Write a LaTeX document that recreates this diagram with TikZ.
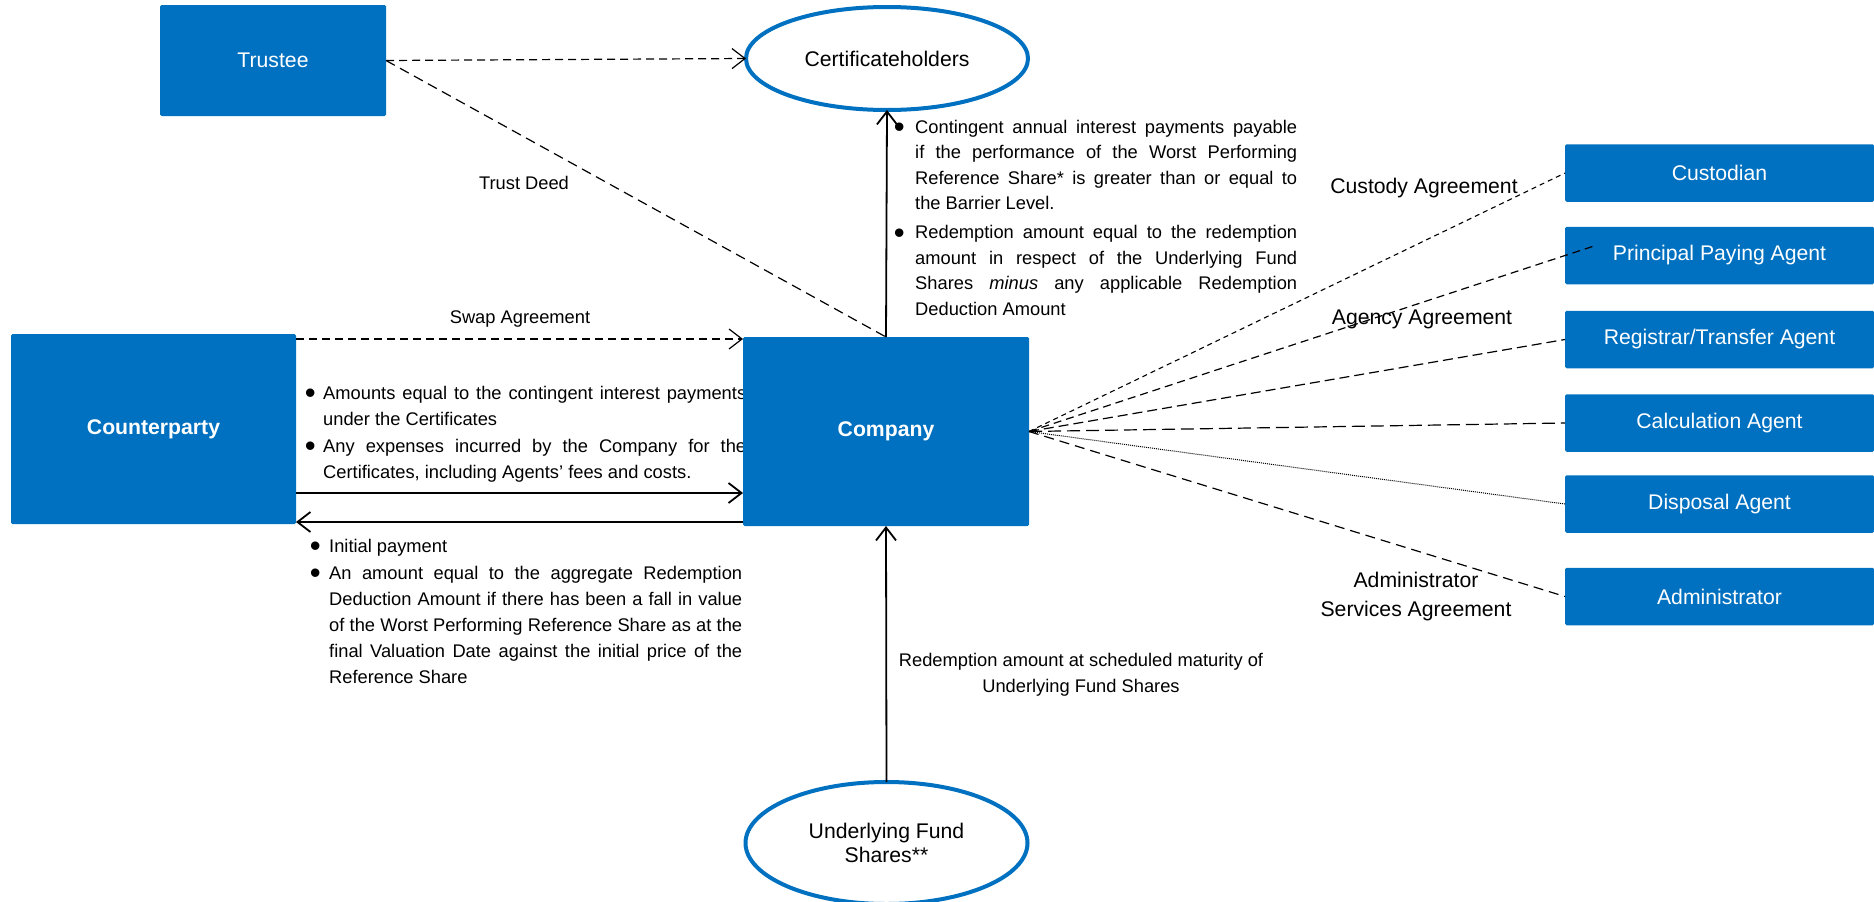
\documentclass[tikz,border=0pt]{standalone}
\usepackage{graphicx}
\usepackage{fontspec}
\setmainfont{Liberation Sans}
\usetikzlibrary{arrows.meta,shapes.geometric,calc}
\definecolor{boxblue}{HTML}{0070C0}
\newcommand\bodyfnt{\fontsize{18.3}{25.5}\selectfont}
\newcommand\bodyfntb{\fontsize{18.3}{26}\selectfont}
\newcommand\bigfnt{\fontsize{21.2}{23.5}\selectfont}
\newcommand\bigdot{\hspace*{-2.3pt}\raisebox{-0.23em}{\scalebox{1.7}{\textbullet}}}
\newcommand\bul[2]{\noindent\hangindent=#1\hangafter=1\makebox[#1][l]{\bigdot}#2\par}
\begin{document}
\begin{tikzpicture}[x=1pt,y=-1pt,
  >={Straight Barb[length=13pt,width=20pt]},
  bluebox/.style={fill=boxblue, draw=none, text=white, font=\bigfnt, inner sep=0pt, outer sep=0pt, rounded corners=1.5pt, align=center},
  agentbox/.style={bluebox, minimum width=309pt, minimum height=57.5pt},
  oval/.style={ellipse, draw=boxblue, line width=4pt, fill=white, font=\bigfnt, inner sep=0pt, outer sep=0pt, align=center, minimum width=282pt},
  dashln/.style={line width=1.2pt, dash pattern=on 8pt off 5pt},
  solidln/.style={line width=1.8pt},
  lbl/.style={font=\bodyfnt, inner sep=0pt},
  bullets/.style={inner sep=0pt, anchor=north west, align=justify}]
\useasboundingbox (0,0) rectangle (1874,902);

% bullet text blocks
\node[bullets, font=\bodyfnt, text width=401pt] (ctext) at (896,120) {%
\bul{19pt}{Contingent annual interest payments payable\linebreak if the performance of the Worst Performing\linebreak Reference Share* is greater than or equal to\linebreak the Barrier Level.}\vskip3.5pt
\bul{19pt}{Redemption amount equal to the redemption\linebreak amount in respect of the Underlying Fund\linebreak Shares \textit{minus} any applicable Redemption\linebreak Deduction Amount}};

\node[bullets, font=\bodyfntb, text width=439pt] (ptext) at (307,386) {%
\bul{16pt}{Amounts equal to the contingent interest payments\linebreak under the Certificates}\vskip1pt
\bul{16pt}{Any expenses incurred by the Company for the\linebreak Certificates, including Agents’ fees and costs.}};

\node[bullets, font=\bodyfntb, text width=430pt] (rtext) at (312,539) {%
\bul{17pt}{Initial payment}\vskip1pt
\bul{17pt}{An amount equal to the aggregate Redemption\linebreak Deduction Amount if there has been a fall in value\linebreak of the Worst Performing Reference Share as at the\linebreak final Valuation Date against the initial price of the\linebreak Reference Share}};

% main boxes
\node[bluebox, minimum width=226pt, minimum height=111pt] (trustee) at (273,60.5) {Trustee};
\node[oval, minimum height=103pt] (cert) at (887,58.5) {Certificateholders};
\node[bluebox, font=\bigfnt\bfseries, minimum width=285pt, minimum height=190pt] (counter) at (153.5,429) {Counterparty};
\node[bluebox, font=\bigfnt\bfseries, minimum width=286pt, minimum height=189pt] (company) at (886,431.5) {Company};
\node[oval, minimum height=122pt] (under) at (886.5,843) {Underlying Fund\\Shares**};

% agents
\node[agentbox] (cust) at (1719.5,173) {Custodian};
\node[agentbox] (ppa) at (1719.5,255.5) {Principal Paying Agent};
\node[agentbox] (reg) at (1719.5,339.5) {Registrar/Transfer Agent};
\node[agentbox] (calc) at (1719.5,423) {Calculation Agent};
\node[agentbox] (disp) at (1719.5,504) {Disposal Agent};
\node[agentbox] (admin) at (1719.5,596.5) {Administrator};

% labels
\node[lbl] (tdl) at (524,183) {Trust Deed};
\node[lbl] (swl) at (520,319) {Swap Agreement};
\node[lbl, font=\bigfnt] (cal) at (1424,188) {Custody Agreement};
\node[lbl, font=\bigfnt] (aal) at (1422,319) {Agency Agreement};
\node[lbl, font=\fontsize{21.2}{29}\selectfont, align=center] (asl) at (1416,597) {Administrator\\Services Agreement};
\node[lbl, font=\bodyfntb, align=center] (rml) at (1081,675) {Redemption amount at scheduled maturity of\\Underlying Fund Shares};

% connectors
\draw[dashln, ->] (trustee.east) -- (cert.west);
\draw[dashln, dash pattern=on 10pt off 6pt] (trustee.east) -- (company.north);
\draw[solidln, ->] (company.north) -- (cert.south);
\draw[solidln, ->] (under.north) -- (company.south);

\coordinate (swapstart) at ([yshift=-5pt]counter.north east);
\draw[dashln, ->] (swapstart) -- (swapstart -| company.west);
\coordinate (paystart) at ([yshift=31pt]counter.south east);
\draw[solidln, ->] (paystart) -- (paystart -| company.west);
\coordinate (retend) at ([yshift=2pt]counter.south east);
\draw[solidln, <-] (retend) -- (retend -| company.west);

\coordinate (ppaend) at ([xshift=29pt,yshift=9.5pt]ppa.west);
\draw[line width=1.1pt, dash pattern=on 5pt off 4pt] (company.east) -- (cust.west);
\draw[line width=1.2pt, dash pattern=on 8pt off 5pt] (company.east) -- (ppaend);
\draw[line width=1.2pt, dash pattern=on 10pt off 5pt] (company.east) -- (reg.west);
\draw[line width=1.2pt, dash pattern=on 13pt off 6pt] (company.east) -- (calc.west);
\draw[line width=1pt, dash pattern=on 1pt off 1pt] (company.east) -- (disp.west);
\draw[line width=1.2pt, dash pattern=on 10pt off 6pt] (company.east) -- (admin.west);
\end{tikzpicture}
\end{document}
